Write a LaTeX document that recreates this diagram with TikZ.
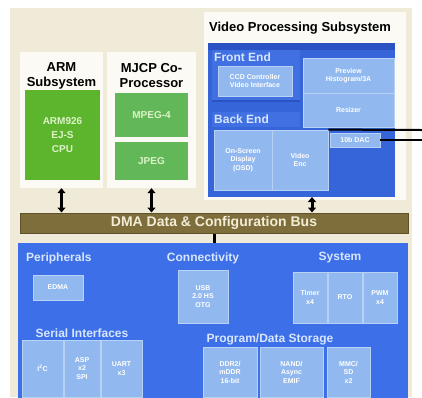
\documentclass[tikz,border=0pt]{standalone}
\usepackage{fontspec}
\setmainfont{Liberation Sans}
\usetikzlibrary{arrows.meta,calc,positioning}

\definecolor{paper}{HTML}{F0EBD8}
\definecolor{panelwhite}{HTML}{FBFAF4}
\definecolor{armgreen}{HTML}{5DB52E}
\definecolor{mjcpgreen}{HTML}{62B858}
\definecolor{chiptext}{HTML}{DDF3C8}
\definecolor{vpssblue}{HTML}{3565D8}
\definecolor{stripblue}{HTML}{2A52C2}
\definecolor{midblue}{HTML}{4070E2}
\definecolor{cellblue}{HTML}{92B9EF}
\definecolor{celledge}{HTML}{B8D2F6}
\definecolor{grouptext}{HTML}{D8E6FF}
\definecolor{busbrown}{HTML}{7D6E3C}
\definecolor{busedge}{HTML}{5F5228}
\definecolor{bustext}{HTML}{F3EDD6}
\definecolor{periphblue}{HTML}{3D70E8}

\tikzset{
  panel/.style={fill=panelwhite, inner sep=0pt},
  chip/.style={fill=#1, inner sep=0pt, text=chiptext, align=center,
    font=\bfseries\fontsize{10}{14}\selectfont},
  cell/.style={fill=cellblue, draw=celledge, line width=0.8pt, inner sep=0pt,
    text=white, align=center, font=\bfseries\fontsize{7}{8.5}\selectfont},
  grouplabel/.style={text=grouptext, inner sep=0pt,
    font=\bfseries\fontsize{12}{14}\selectfont},
  paneltitle/.style={inner sep=0pt, align=center,
    font=\bfseries\fontsize{13}{15}\selectfont},
  bi/.style={line width=3pt, {Triangle[width=8pt,length=5pt]}-{Triangle[width=8pt,length=5pt]}},
  link/.style={line width=2pt}
}

\begin{document}
\begin{tikzpicture}[x=1pt,y=-1pt]
    % page and paper
    \useasboundingbox[fill=white] (0,0) rectangle (422,397);
    \fill[paper] (10,8) rectangle (412,397);

    % white panels
    \node[panel, minimum width=83pt, minimum height=136pt] (armpanel) at (61.5,120) {};
    \node[panel, minimum width=89pt, minimum height=136pt] (mjcppanel) at (151.5,120) {};
    \node[panel, minimum width=202pt, minimum height=188pt] (vpsspanel) at (305,106) {};

    % panel titles
    \node[paneltitle] (armtitle) at (61.5,76) {ARM\\Subsystem};
    \node[paneltitle] (mjcptitle) at (151.5,76) {MJCP Co-\\Processor};
    \node[paneltitle] (vpsstitle) at (300,28) {Video Processing Subsystem};

    % ARM and co-processor
    \node[chip=armgreen, minimum width=75pt, minimum height=90pt] (cpu) at (62.5,135) {ARM926\\EJ-S\\CPU};
    \node[chip=mjcpgreen, minimum width=73pt, minimum height=44pt] (mpeg) at (151.5,115) {MPEG-4};
    \node[chip=mjcpgreen, minimum width=73pt, minimum height=38pt] (jpeg) at (151.5,161) {JPEG};

    % video processing subsystem
    \node[fill=vpssblue, inner sep=0pt, minimum width=187pt, minimum height=154pt] (vpss) at (301.5,120) {};
    \fill[stripblue] (208,43) rectangle (395,50);
    \fill[midblue] (212,50) rectangle (300,100);
    \draw[stripblue, line width=2pt] (212,101) -- (300,101);
    \fill[midblue] (212,112) rectangle (300,127);
    \node[grouplabel, anchor=west] (frontlabel) at (214,57) {Front End};
    \node[grouplabel, anchor=west] (backlabel) at (214,119.5) {Back End};
    \node[cell, minimum width=74pt, minimum height=30pt] (ccd) at (255,81) {CCD Controller\\Video Interface};
    \node[cell, minimum width=91pt, minimum height=35pt] (preview) at (348.5,75.5) {Preview\\Histogram/3A};
    \node[cell, minimum width=91pt, minimum height=34pt] (resizer) at (348.5,110) {Resizer};
    \node[cell, minimum width=58pt, minimum height=60pt] (osd) at (243,160) {On-Screen\\Display\\(OSD)};
    \node[cell, minimum width=56pt, minimum height=60pt] (venc) at (300,160) {Video\\Enc};
    \node[cell, minimum width=50pt, minimum height=14pt] (dac) at (355,140) {10b DAC};

    % video outputs
    \coordinate (vout) at (422,130);
    \draw[link] (venc.north east) -- (vout);
    \draw[link] (dac.east) -- (dac.east -| vout);

    % the bus
    \node[fill=busbrown, draw=busedge, line width=1pt, inner sep=0pt, text=bustext,
      font=\bfseries\fontsize{14}{16}\selectfont,
      minimum width=388pt, minimum height=20pt] (bus) at (214,223) {DMA Data \& Configuration Bus};

    % peripherals
    \node[fill=periphblue, inner sep=0pt, minimum width=390pt, minimum height=156pt] (periph) at (213,321) {};
    \node[grouplabel, anchor=west] (periphlabel) at (26,258) {Peripherals};
    \node[grouplabel] (connlabel) at (203,258) {Connectivity};
    \node[grouplabel] (syslabel) at (340,258) {System};
    \node[grouplabel] (seriallabel) at (82,333) {Serial Interfaces};
    \node[grouplabel] (storelabel) at (270,339) {Program/Data Storage};

    \node[cell, minimum width=50pt, minimum height=25pt] (edma) at (58,287.5) {EDMA};
    \node[cell, minimum width=50pt, minimum height=53pt] (usb) at (203,296.5) {USB\\2.0 HS\\OTG};

    \node[cell, minimum width=34pt, minimum height=51pt] (timer) at (310,297.5) {Timer\\x4};
    \node[cell, minimum width=34pt, minimum height=51pt] (rto) at (345,297.5) {RTO};
    \node[cell, minimum width=34pt, minimum height=51pt] (pwm) at (380,297.5) {PWM\\x4};

    \node[cell, minimum width=41pt, minimum height=57pt] (iic) at (42.5,368.5) {I\textsuperscript{2}C};
    \node[cell, minimum width=36pt, minimum height=57pt] (spi) at (82,368.5) {ASP\\x2\\SPI};
    \node[cell, minimum width=41pt, minimum height=57pt] (uart) at (121.5,368.5) {UART\\x3};

    \node[cell, minimum width=54pt, minimum height=50pt] (ddr) at (230,372) {DDR2/\\mDDR\\16-bit};
    \node[cell, minimum width=63pt, minimum height=50pt] (nand) at (291.5,372) {NAND/\\Async\\EMIF};
    \node[cell, minimum width=43pt, minimum height=50pt] (mmc) at (348.5,372) {MMC/\\SD\\x2};

    % connections to the bus
    \draw[bi] (armpanel.south) -- (armpanel.south |- bus.north);
    \draw[bi] (mjcppanel.south) -- (mjcppanel.south |- bus.north);
    \coordinate (vpssport) at (312,197);
    \draw[bi] (vpssport) -- (vpssport |- bus.north);
    \draw[link, line width=3pt] (bus.south) -- (bus.south |- periph.north);
\end{tikzpicture}
\end{document}
